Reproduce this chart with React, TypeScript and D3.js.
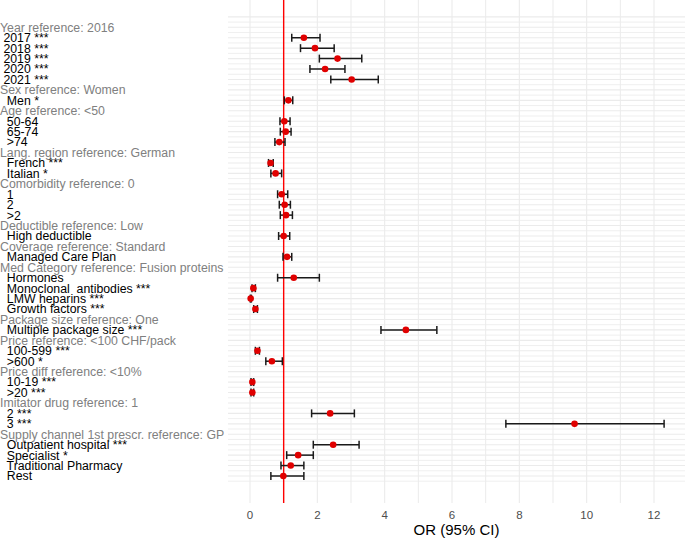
import React from "react";
import * as d3 from "d3";

const labels: string[] = [
  "Year reference: 2016", " 2017 ***", " 2018 ***", " 2019 ***", " 2020 ***", " 2021 ***",
  "Sex reference: Women", "  Men *",
  "Age reference: <50", "  50-64", "  65-74", "  >74",
  "Lang. region reference: German", "  French ***", "  Italian *",
  "Comorbidity reference: 0", "  1", "  2", "  >2",
  "Deductible reference: Low", "  High deductible",
  "Coverage reference: Standard", "  Managed Care Plan",
  "Med Category reference: Fusion proteins", "  Hormones", "  Monoclonal  antibodies ***", "  LMW heparins ***", "  Growth factors ***",
  "Package size reference: One", "  Multiple package size ***",
  "Price reference: <100 CHF/pack", "  100-599 ***", "  >600 *",
  "Price diff reference: <10%", "  10-19 ***", "  >20 ***",
  "Imitator drug reference: 1", "  2 ***", "  3 ***",
  "Supply channel 1st prescr. reference: GP", "  Outpatient hospital ***", "  Specialist *", "  Traditional Pharmacy", "  Rest",
];

const isReference: boolean[] = labels.map((l) => !l.startsWith(" "));

const orValues: (number | null)[] = [
  null, 1.60, 1.93, 2.60, 2.23, 3.02,
  null, 1.14,
  null, 1.02, 1.06, 0.87,
  null, 0.61, 0.76,
  null, 0.94, 1.03, 1.07,
  null, 1.00,
  null, 1.10,
  null, 1.30, 0.10, 0.02, 0.16,
  null, 4.63,
  null, 0.22, 0.65,
  null, 0.07, 0.07,
  null, 2.38, 9.64,
  null, 2.47, 1.43, 1.21, 0.99,
];

const ciLow: (number | null)[] = [
  null, 1.24, 1.50, 2.06, 1.78, 2.40,
  null, 1.02,
  null, 0.89, 0.90, 0.74,
  null, 0.55, 0.62,
  null, 0.82, 0.87, 0.90,
  null, 0.85,
  null, 0.98,
  null, 0.82, 0.06, 0.01, 0.11,
  null, 3.89,
  null, 0.16, 0.47,
  null, 0.03, 0.03,
  null, 1.83, 7.60,
  null, 1.88, 1.09, 0.92, 0.62,
];

const ciHigh: (number | null)[] = [
  null, 2.08, 2.50, 3.32, 2.82, 3.81,
  null, 1.27,
  null, 1.19, 1.22, 1.04,
  null, 0.69, 0.94,
  null, 1.12, 1.20, 1.26,
  null, 1.18,
  null, 1.24,
  null, 2.06, 0.16, 0.04, 0.22,
  null, 5.55,
  null, 0.28, 0.96,
  null, 0.11, 0.11,
  null, 3.10, 12.3,
  null, 3.24, 1.88, 1.60, 1.60,
];

const xTicks: number[] = [0, 2, 4, 6, 8, 10, 12];
const xMinorTicks: number[] = [1, 3, 5, 7, 9, 11];
const xTitle = "OR (95% CI)";

const W = 685;
const H = 539;

export default function App() {
  const x = d3.scaleLinear().domain([0, 12]).range([250, 654]);
  const y = d3.scaleLinear().domain([1, labels.length]).range([27.3, 476]);
  const panelLeft = 228;
  const panelRight = W;
  const panelBottom = 503;
  const hGrid = d3.range(0, labels.length + 0.51, 0.5);
  const font = "'Liberation Sans', Arial, Helvetica, sans-serif";
  const capH = 4;

  return (
    <svg
      width={W}
      height={H}
      style={{ position: "absolute", left: 0, top: 0, display: "block", background: "#fff" }}
      fontFamily={font}
    >
      {hGrid.map((r, i) => (
        <line
          key={"h" + i}
          x1={panelLeft}
          x2={panelRight}
          y1={y(r)}
          y2={y(r)}
          stroke="#ebebeb"
          strokeWidth={Number.isInteger(r) ? 1.1 : 0.8}
        />
      ))}
      {xMinorTicks.map((t) => (
        <line key={"vm" + t} x1={x(t)} x2={x(t)} y1={0} y2={panelBottom} stroke="#ebebeb" strokeWidth={1} />
      ))}
      {xTicks.map((t) => (
        <line key={"v" + t} x1={x(t)} x2={x(t)} y1={0} y2={panelBottom} stroke="#ebebeb" strokeWidth={1.1} />
      ))}
      <line x1={x(1)} x2={x(1)} y1={0} y2={panelBottom} stroke="#ff0000" strokeWidth={1.4} />

      {labels.map((l, i) => {
        const o = orValues[i];
        const lo = ciLow[i];
        const hi = ciHigh[i];
        if (o === null || lo === null || hi === null) return null;
        const yy = y(i + 1);
        return (
          <g key={"p" + i}>
            <line x1={x(lo)} x2={x(hi)} y1={yy} y2={yy} stroke="#1a1a1a" strokeWidth={1.5} />
            <line x1={x(lo)} x2={x(lo)} y1={yy - capH} y2={yy + capH} stroke="#1a1a1a" strokeWidth={1.5} />
            <line x1={x(hi)} x2={x(hi)} y1={yy - capH} y2={yy + capH} stroke="#1a1a1a" strokeWidth={1.5} />
            <circle cx={x(o)} cy={yy} r={3.3} fill="#e00000" />
          </g>
        );
      })}

      {labels.map((l, i) => (
        <text
          key={"l" + i}
          x={0}
          y={y(i + 1) + 4.4}
          fontSize={12.3}
          fill={isReference[i] ? "#808080" : "#000000"}
          style={{ whiteSpace: "pre" }}
          xmlSpace="preserve"
        >
          {l}
        </text>
      ))}

      {xTicks.map((t) => (
        <text key={"t" + t} x={x(t)} y={519} fontSize={11.5} fill="#4d4d4d" textAnchor="middle">
          {t}
        </text>
      ))}
      <text x={(panelLeft + panelRight) / 2} y={535} fontSize={15} fill="#000" textAnchor="middle">
        {xTitle}
      </text>
    </svg>
  );
}
